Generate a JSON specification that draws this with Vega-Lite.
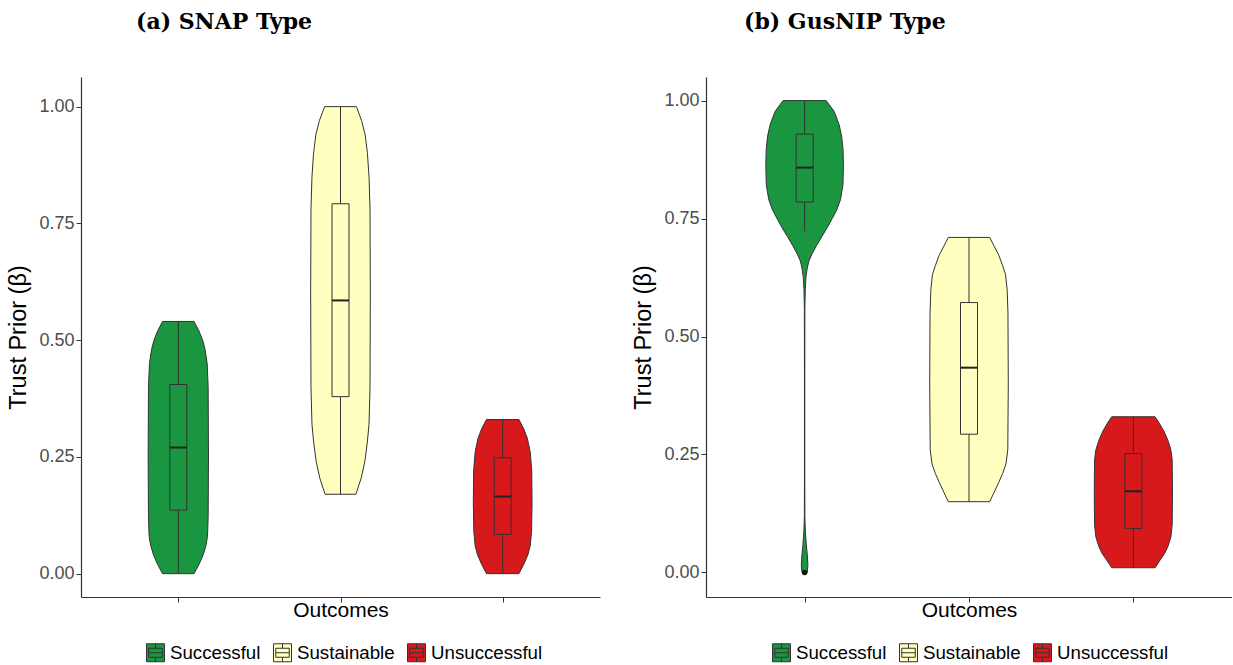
{
  "$schema": "https://vega.github.io/schema/vega-lite/v6.json",
  "padding": {"left": 6, "top": 11, "right": 0, "bottom": 0},
  "background": "white",
  "config": {
    "view": {"stroke": null},
    "font": "Liberation Sans",
    "axis": {
      "grid": false,
      "domainColor": "#333333",
      "domainWidth": 1.2,
      "tickColor": "#333333",
      "tickSize": 5,
      "labelFont": "Liberation Sans",
      "labelFontSize": 18,
      "labelColor": "#4d4d4d",
      "titleFont": "Liberation Sans",
      "titleFontSize": 21,
      "titleFontWeight": "normal",
      "titleColor": "#000000"
    },
    "legend": {
      "labelFont": "Liberation Sans",
      "labelFontSize": 18.7,
      "labelColor": "#000000",
      "symbolType": "M-1,-1H1V1H-1Z M-0.75,-0.5H0.75V0.5H-0.75Z M-0.75,0H0.75 M0,-1V-0.5 M0,0.5V1",
      "symbolSize": 324,
      "symbolStrokeColor": "#333333",
      "symbolStrokeWidth": 1,
      "symbolOpacity": 1,
      "labelOffset": 5,
      "columnPadding": 10
    }
  },
  "datasets": {
    "violin": [
      {"panel": "a", "outcome": "Successful", "value": 0.000, "halfwidth": 0.097},
      {"panel": "a", "outcome": "Successful", "value": 0.020, "halfwidth": 0.128},
      {"panel": "a", "outcome": "Successful", "value": 0.040, "halfwidth": 0.153},
      {"panel": "a", "outcome": "Successful", "value": 0.060, "halfwidth": 0.170},
      {"panel": "a", "outcome": "Successful", "value": 0.080, "halfwidth": 0.180},
      {"panel": "a", "outcome": "Successful", "value": 0.120, "halfwidth": 0.184},
      {"panel": "a", "outcome": "Successful", "value": 0.250, "halfwidth": 0.186},
      {"panel": "a", "outcome": "Successful", "value": 0.400, "halfwidth": 0.184},
      {"panel": "a", "outcome": "Successful", "value": 0.450, "halfwidth": 0.178},
      {"panel": "a", "outcome": "Successful", "value": 0.480, "halfwidth": 0.165},
      {"panel": "a", "outcome": "Successful", "value": 0.500, "halfwidth": 0.150},
      {"panel": "a", "outcome": "Successful", "value": 0.520, "halfwidth": 0.127},
      {"panel": "a", "outcome": "Successful", "value": 0.540, "halfwidth": 0.097},
      {"panel": "a", "outcome": "Sustainable", "value": 0.170, "halfwidth": 0.095},
      {"panel": "a", "outcome": "Sustainable", "value": 0.205, "halfwidth": 0.128},
      {"panel": "a", "outcome": "Sustainable", "value": 0.240, "halfwidth": 0.150},
      {"panel": "a", "outcome": "Sustainable", "value": 0.280, "halfwidth": 0.165},
      {"panel": "a", "outcome": "Sustainable", "value": 0.320, "halfwidth": 0.176},
      {"panel": "a", "outcome": "Sustainable", "value": 0.400, "halfwidth": 0.182},
      {"panel": "a", "outcome": "Sustainable", "value": 0.600, "halfwidth": 0.184},
      {"panel": "a", "outcome": "Sustainable", "value": 0.780, "halfwidth": 0.182},
      {"panel": "a", "outcome": "Sustainable", "value": 0.850, "halfwidth": 0.176},
      {"panel": "a", "outcome": "Sustainable", "value": 0.900, "halfwidth": 0.166},
      {"panel": "a", "outcome": "Sustainable", "value": 0.940, "halfwidth": 0.152},
      {"panel": "a", "outcome": "Sustainable", "value": 0.970, "halfwidth": 0.130},
      {"panel": "a", "outcome": "Sustainable", "value": 1.000, "halfwidth": 0.098},
      {"panel": "a", "outcome": "Unsuccessful", "value": 0.000, "halfwidth": 0.100},
      {"panel": "a", "outcome": "Unsuccessful", "value": 0.020, "halfwidth": 0.130},
      {"panel": "a", "outcome": "Unsuccessful", "value": 0.040, "halfwidth": 0.155},
      {"panel": "a", "outcome": "Unsuccessful", "value": 0.060, "halfwidth": 0.170},
      {"panel": "a", "outcome": "Unsuccessful", "value": 0.090, "halfwidth": 0.178},
      {"panel": "a", "outcome": "Unsuccessful", "value": 0.150, "halfwidth": 0.181},
      {"panel": "a", "outcome": "Unsuccessful", "value": 0.220, "halfwidth": 0.179},
      {"panel": "a", "outcome": "Unsuccessful", "value": 0.260, "halfwidth": 0.170},
      {"panel": "a", "outcome": "Unsuccessful", "value": 0.290, "halfwidth": 0.152},
      {"panel": "a", "outcome": "Unsuccessful", "value": 0.310, "halfwidth": 0.130},
      {"panel": "a", "outcome": "Unsuccessful", "value": 0.330, "halfwidth": 0.100},
      {"panel": "b", "outcome": "Successful", "value": 0.000, "halfwidth": 0.016},
      {"panel": "b", "outcome": "Successful", "value": 0.015, "halfwidth": 0.020},
      {"panel": "b", "outcome": "Successful", "value": 0.035, "halfwidth": 0.017},
      {"panel": "b", "outcome": "Successful", "value": 0.060, "halfwidth": 0.010},
      {"panel": "b", "outcome": "Successful", "value": 0.090, "halfwidth": 0.004},
      {"panel": "b", "outcome": "Successful", "value": 0.120, "halfwidth": 0.0015},
      {"panel": "b", "outcome": "Successful", "value": 0.200, "halfwidth": 0.001},
      {"panel": "b", "outcome": "Successful", "value": 0.400, "halfwidth": 0.001},
      {"panel": "b", "outcome": "Successful", "value": 0.560, "halfwidth": 0.0015},
      {"panel": "b", "outcome": "Successful", "value": 0.600, "halfwidth": 0.004},
      {"panel": "b", "outcome": "Successful", "value": 0.625, "halfwidth": 0.008},
      {"panel": "b", "outcome": "Successful", "value": 0.645, "halfwidth": 0.016},
      {"panel": "b", "outcome": "Successful", "value": 0.660, "halfwidth": 0.026},
      {"panel": "b", "outcome": "Successful", "value": 0.675, "halfwidth": 0.045},
      {"panel": "b", "outcome": "Successful", "value": 0.693, "halfwidth": 0.073},
      {"panel": "b", "outcome": "Successful", "value": 0.712, "halfwidth": 0.105},
      {"panel": "b", "outcome": "Successful", "value": 0.731, "halfwidth": 0.138},
      {"panel": "b", "outcome": "Successful", "value": 0.750, "halfwidth": 0.168},
      {"panel": "b", "outcome": "Successful", "value": 0.768, "halfwidth": 0.195},
      {"panel": "b", "outcome": "Successful", "value": 0.790, "halfwidth": 0.218},
      {"panel": "b", "outcome": "Successful", "value": 0.821, "halfwidth": 0.233},
      {"panel": "b", "outcome": "Successful", "value": 0.860, "halfwidth": 0.236},
      {"panel": "b", "outcome": "Successful", "value": 0.896, "halfwidth": 0.234},
      {"panel": "b", "outcome": "Successful", "value": 0.925, "halfwidth": 0.225},
      {"panel": "b", "outcome": "Successful", "value": 0.949, "halfwidth": 0.210},
      {"panel": "b", "outcome": "Successful", "value": 0.977, "halfwidth": 0.180},
      {"panel": "b", "outcome": "Successful", "value": 1.000, "halfwidth": 0.131},
      {"panel": "b", "outcome": "Sustainable", "value": 0.150, "halfwidth": 0.126},
      {"panel": "b", "outcome": "Sustainable", "value": 0.170, "halfwidth": 0.153},
      {"panel": "b", "outcome": "Sustainable", "value": 0.190, "halfwidth": 0.180},
      {"panel": "b", "outcome": "Sustainable", "value": 0.210, "halfwidth": 0.205},
      {"panel": "b", "outcome": "Sustainable", "value": 0.230, "halfwidth": 0.225},
      {"panel": "b", "outcome": "Sustainable", "value": 0.260, "halfwidth": 0.236},
      {"panel": "b", "outcome": "Sustainable", "value": 0.400, "halfwidth": 0.239},
      {"panel": "b", "outcome": "Sustainable", "value": 0.550, "halfwidth": 0.237},
      {"panel": "b", "outcome": "Sustainable", "value": 0.600, "halfwidth": 0.232},
      {"panel": "b", "outcome": "Sustainable", "value": 0.632, "halfwidth": 0.222},
      {"panel": "b", "outcome": "Sustainable", "value": 0.650, "halfwidth": 0.205},
      {"panel": "b", "outcome": "Sustainable", "value": 0.672, "halfwidth": 0.182},
      {"panel": "b", "outcome": "Sustainable", "value": 0.690, "halfwidth": 0.155},
      {"panel": "b", "outcome": "Sustainable", "value": 0.710, "halfwidth": 0.126},
      {"panel": "b", "outcome": "Unsuccessful", "value": 0.010, "halfwidth": 0.132},
      {"panel": "b", "outcome": "Unsuccessful", "value": 0.025, "halfwidth": 0.160},
      {"panel": "b", "outcome": "Unsuccessful", "value": 0.040, "halfwidth": 0.190},
      {"panel": "b", "outcome": "Unsuccessful", "value": 0.055, "halfwidth": 0.210},
      {"panel": "b", "outcome": "Unsuccessful", "value": 0.075, "halfwidth": 0.228},
      {"panel": "b", "outcome": "Unsuccessful", "value": 0.100, "halfwidth": 0.236},
      {"panel": "b", "outcome": "Unsuccessful", "value": 0.170, "halfwidth": 0.238},
      {"panel": "b", "outcome": "Unsuccessful", "value": 0.240, "halfwidth": 0.236},
      {"panel": "b", "outcome": "Unsuccessful", "value": 0.260, "halfwidth": 0.228},
      {"panel": "b", "outcome": "Unsuccessful", "value": 0.280, "halfwidth": 0.210},
      {"panel": "b", "outcome": "Unsuccessful", "value": 0.300, "halfwidth": 0.185},
      {"panel": "b", "outcome": "Unsuccessful", "value": 0.315, "halfwidth": 0.160},
      {"panel": "b", "outcome": "Unsuccessful", "value": 0.330, "halfwidth": 0.132}
    ],
    "box": [
      {"panel": "a", "outcome": "Successful", "lower": 0.0, "q1": 0.136, "median": 0.27, "q3": 0.405, "upper": 0.54},
      {"panel": "a", "outcome": "Sustainable", "lower": 0.17, "q1": 0.379, "median": 0.585, "q3": 0.792, "upper": 1.0},
      {"panel": "a", "outcome": "Unsuccessful", "lower": 0.0, "q1": 0.084, "median": 0.165, "q3": 0.248, "upper": 0.33},
      {"panel": "b", "outcome": "Successful", "lower": 0.723, "q1": 0.785, "median": 0.858, "q3": 0.929, "upper": 1.0},
      {"panel": "b", "outcome": "Sustainable", "lower": 0.15, "q1": 0.293, "median": 0.434, "q3": 0.572, "upper": 0.71},
      {"panel": "b", "outcome": "Unsuccessful", "lower": 0.01, "q1": 0.093, "median": 0.172, "q3": 0.252, "upper": 0.33}
    ],
    "outlier": [
      {"panel": "b", "outcome": "Successful", "value": 0.0}
    ]
  },
  "hconcat": [
    {
      "width": 519,
      "height": 520,
      "title": {"text": "(a) SNAP Type", "anchor": "start", "frame": "group", "dx": 55, "offset": 43, "font": "DejaVu Serif", "fontSize": 22, "fontWeight": "bold", "color": "#000000"},
      "layer": [
        {
          "data": {"name": "violin"},
          "transform": [
            {"filter": "datum.panel == 'a'"},
            {"calculate": "indexof(['Successful','Sustainable','Unsuccessful'], datum.outcome) + 1", "as": "pos"},
            {"calculate": "datum.pos - datum.halfwidth", "as": "left"},
            {"calculate": "datum.pos + datum.halfwidth", "as": "right"}
          ],
          "mark": {"type": "area", "orient": "horizontal", "stroke": "#333333", "strokeWidth": 1, "fillOpacity": 1},
          "encoding": {
            "y": {"field": "value", "type": "quantitative", "scale": {"domain": [-0.05, 1.0634], "nice": false, "zero": false, "padding": 0},
                  "axis": {"values": [0, 0.25, 0.5, 0.75, 1], "format": ".2f", "title": "Trust Prior (β)", "titlePadding": 8, "labelPadding": 2, "titleFontSize": 23.5}},
            "x": {"field": "left", "type": "quantitative", "stack": null, "scale": {"domain": [0.4, 3.6], "nice": false, "zero": false, "padding": 0},
                  "axis": {"values": [1, 2, 3], "labels": false, "title": "Outcomes", "titlePadding": -3}},
            "x2": {"field": "right"},
            "detail": {"field": "outcome"},
            "color": {"field": "outcome", "type": "nominal",
                      "scale": {"domain": ["Successful", "Sustainable", "Unsuccessful"], "range": ["#1a9641", "#ffffbf", "#d7191c"]},
                      "legend": {"title": null, "orient": "none", "direction": "horizontal", "legendX": 65, "legendY": 566}}
          }
        },
        {
          "data": {"name": "box"},
          "transform": [
            {"filter": "datum.panel == 'a'"},
            {"calculate": "indexof(['Successful','Sustainable','Unsuccessful'], datum.outcome) + 1", "as": "pos"}
          ],
          "mark": {"type": "rule", "color": "#333333", "strokeWidth": 1},
          "encoding": {
            "x": {"field": "pos", "type": "quantitative"},
            "y": {"field": "lower", "type": "quantitative"},
            "y2": {"field": "upper"}
          }
        },
        {
          "data": {"name": "box"},
          "transform": [
            {"filter": "datum.panel == 'a'"},
            {"calculate": "indexof(['Successful','Sustainable','Unsuccessful'], datum.outcome) + 1", "as": "pos"}
          ],
          "mark": {"type": "bar", "width": 17, "stroke": "#333333", "strokeWidth": 1, "fillOpacity": 1},
          "encoding": {
            "x": {"field": "pos", "type": "quantitative"},
            "y": {"field": "q1", "type": "quantitative"},
            "y2": {"field": "q3"},
            "color": {"field": "outcome", "type": "nominal", "legend": null}
          }
        },
        {
          "data": {"name": "box"},
          "transform": [
            {"filter": "datum.panel == 'a'"},
            {"calculate": "indexof(['Successful','Sustainable','Unsuccessful'], datum.outcome) + 1", "as": "pos"}
          ],
          "mark": {"type": "tick", "orient": "horizontal", "size": 17, "thickness": 2, "color": "#222222", "opacity": 1},
          "encoding": {
            "x": {"field": "pos", "type": "quantitative"},
            "y": {"field": "median", "type": "quantitative"}
          }
        }
      ]
    },
    {
      "width": 526,
      "height": 520,
      "title": {"text": "(b) GusNIP Type", "anchor": "start", "frame": "group", "dx": 38, "offset": 43, "font": "DejaVu Serif", "fontSize": 22, "fontWeight": "bold", "color": "#000000"},
      "layer": [
        {
          "data": {"name": "violin"},
          "transform": [
            {"filter": "datum.panel == 'b'"},
            {"calculate": "indexof(['Successful','Sustainable','Unsuccessful'], datum.outcome) + 1", "as": "pos"},
            {"calculate": "datum.pos - datum.halfwidth", "as": "left"},
            {"calculate": "datum.pos + datum.halfwidth", "as": "right"}
          ],
          "mark": {"type": "area", "orient": "horizontal", "stroke": "#333333", "strokeWidth": 1, "fillOpacity": 1},
          "encoding": {
            "y": {"field": "value", "type": "quantitative", "scale": {"domain": [-0.052, 1.05], "nice": false, "zero": false, "padding": 0},
                  "axis": {"values": [0, 0.25, 0.5, 0.75, 1], "format": ".2f", "title": "Trust Prior (β)", "titlePadding": 8, "labelPadding": 2, "titleFontSize": 23.5}},
            "x": {"field": "left", "type": "quantitative", "stack": null, "scale": {"domain": [0.4, 3.6], "nice": false, "zero": false, "padding": 0},
                  "axis": {"values": [1, 2, 3], "labels": false, "title": "Outcomes", "titlePadding": -3}},
            "x2": {"field": "right"},
            "detail": {"field": "outcome"},
            "color": {"field": "outcome", "type": "nominal",
                      "scale": {"domain": ["Successful", "Sustainable", "Unsuccessful"], "range": ["#1a9641", "#ffffbf", "#d7191c"]},
                      "legend": {"title": null, "orient": "none", "direction": "horizontal", "legendX": 66, "legendY": 566}}
          }
        },
        {
          "data": {"name": "box"},
          "transform": [
            {"filter": "datum.panel == 'b'"},
            {"calculate": "indexof(['Successful','Sustainable','Unsuccessful'], datum.outcome) + 1", "as": "pos"}
          ],
          "mark": {"type": "rule", "color": "#333333", "strokeWidth": 1},
          "encoding": {
            "x": {"field": "pos", "type": "quantitative"},
            "y": {"field": "lower", "type": "quantitative"},
            "y2": {"field": "upper"}
          }
        },
        {
          "data": {"name": "box"},
          "transform": [
            {"filter": "datum.panel == 'b'"},
            {"calculate": "indexof(['Successful','Sustainable','Unsuccessful'], datum.outcome) + 1", "as": "pos"}
          ],
          "mark": {"type": "bar", "width": 17, "stroke": "#333333", "strokeWidth": 1, "fillOpacity": 1},
          "encoding": {
            "x": {"field": "pos", "type": "quantitative"},
            "y": {"field": "q1", "type": "quantitative"},
            "y2": {"field": "q3"},
            "color": {"field": "outcome", "type": "nominal", "legend": null}
          }
        },
        {
          "data": {"name": "box"},
          "transform": [
            {"filter": "datum.panel == 'b'"},
            {"calculate": "indexof(['Successful','Sustainable','Unsuccessful'], datum.outcome) + 1", "as": "pos"}
          ],
          "mark": {"type": "tick", "orient": "horizontal", "size": 17, "thickness": 2, "color": "#222222", "opacity": 1},
          "encoding": {
            "x": {"field": "pos", "type": "quantitative"},
            "y": {"field": "median", "type": "quantitative"}
          }
        },
        {
          "data": {"name": "outlier"},
          "transform": [
            {"filter": "datum.panel == 'b'"},
            {"calculate": "indexof(['Successful','Sustainable','Unsuccessful'], datum.outcome) + 1", "as": "pos"}
          ],
          "mark": {"type": "point", "filled": true, "color": "#111111", "size": 30, "opacity": 1},
          "encoding": {
            "x": {"field": "pos", "type": "quantitative"},
            "y": {"field": "value", "type": "quantitative"}
          }
        }
      ]
    }
  ],
  "spacing": 31,
  "resolve": {"scale": {"color": "independent", "x": "independent", "y": "independent"}, "legend": {"color": "independent"}}
}
